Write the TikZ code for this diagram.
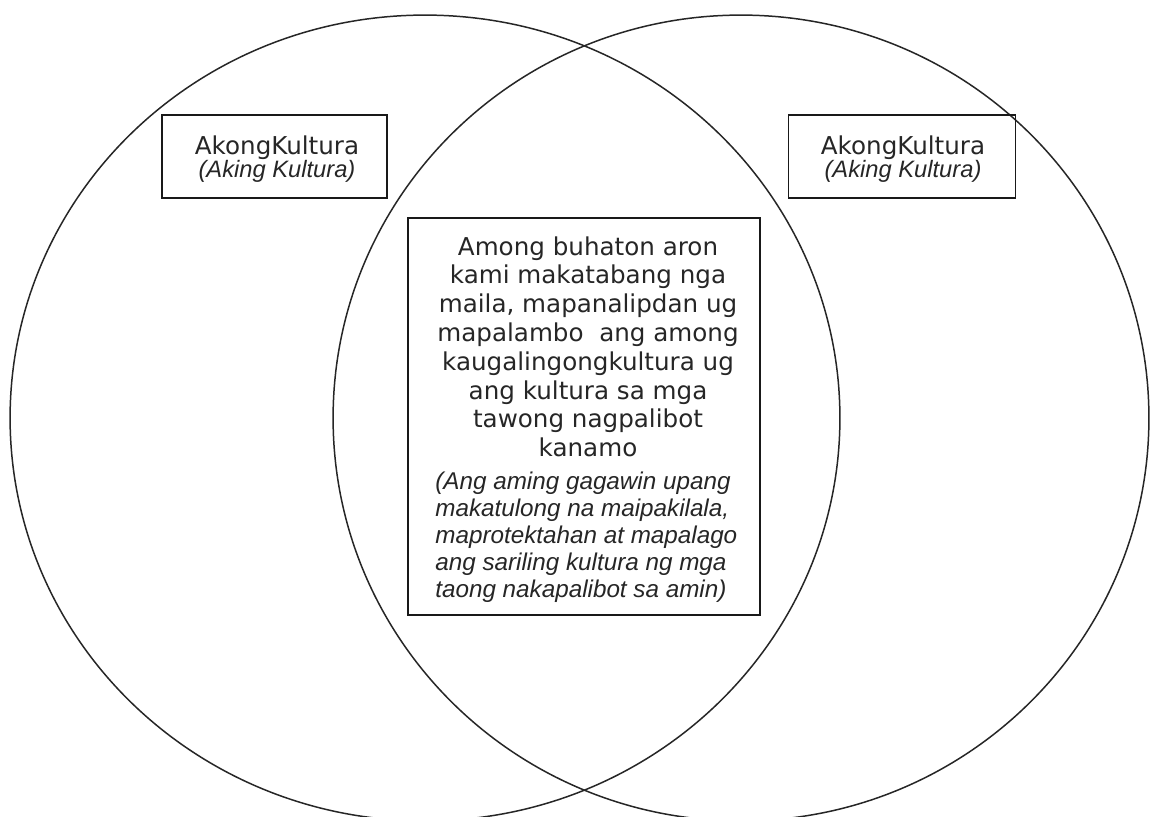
\documentclass[tikz,border=0pt]{standalone}
\usepackage{fontspec}
\setmainfont{DejaVu Sans}
\newfontfamily\arialfont{Liberation Sans}
\usepackage{tikz}
\usetikzlibrary{positioning}

\begin{document}
\begin{tikzpicture}[x=0.02cm, y=-0.02cm,
  venn/.style={draw=black!85, line width=0.85pt},
  kbox/.style={draw=black!90, line width=0.85pt, rectangle, inner sep=0pt},
  uptext/.style={align=center, inner sep=0pt, text=black!85, font=\fontsize{14}{16.4}\selectfont},
  ittext/.style={align=left, inner sep=0pt, text=black!85, font=\arialfont\itshape\fontsize{13.8}{15.3}\selectfont}]
\useasboundingbox (0,0) rectangle (1151,816);
\fill[white] (0,0) rectangle (1151,816);
% the two circles
\draw[venn] (425,418) ellipse [x radius=8.3cm, y radius=8.06cm];
\draw[venn] (741,418) ellipse [x radius=8.16cm, y radius=8.06cm];
% boxes
\node[kbox, minimum width=4.5cm, minimum height=1.66cm] (leftbox) at (274.5,156.5) {};
\node[kbox, minimum width=4.54cm, minimum height=1.66cm] (rightbox) at (902,156.5) {};
\node[kbox, minimum width=7.04cm, minimum height=7.94cm] (midbox) at (584,416.5) {};
\node[align=center, inner sep=0pt, text=black!85, font=\fontsize{14}{13}\selectfont] (lefttxt) at (277,159.5) {AkongKultura\\{\arialfont\itshape\fontsize{13.5}{13}\selectfont(Aking Kultura)}};
\node[align=center, inner sep=0pt, text=black!85, font=\fontsize{14}{13}\selectfont] (righttxt) at (903,159.5) {AkongKultura\\{\arialfont\itshape\fontsize{13.5}{13}\selectfont(Aking Kultura)}};
\node[uptext, anchor=north] (midup) at (588,236) {Among buhaton aron\\kami makatabang nga\\maila, mapanalipdan ug\\mapalambo\ \ ang among\\kaugalingongkultura ug\\ang kultura sa mga\\tawong nagpalibot\\kanamo};
\node[ittext, anchor=north west] (midit) at (435,472) {(Ang aming gagawin upang\\makatulong na maipakilala,\\maprotektahan at mapalago\\ang sariling kultura ng mga\\taong nakapalibot sa amin)};
\end{tikzpicture}
\end{document}
